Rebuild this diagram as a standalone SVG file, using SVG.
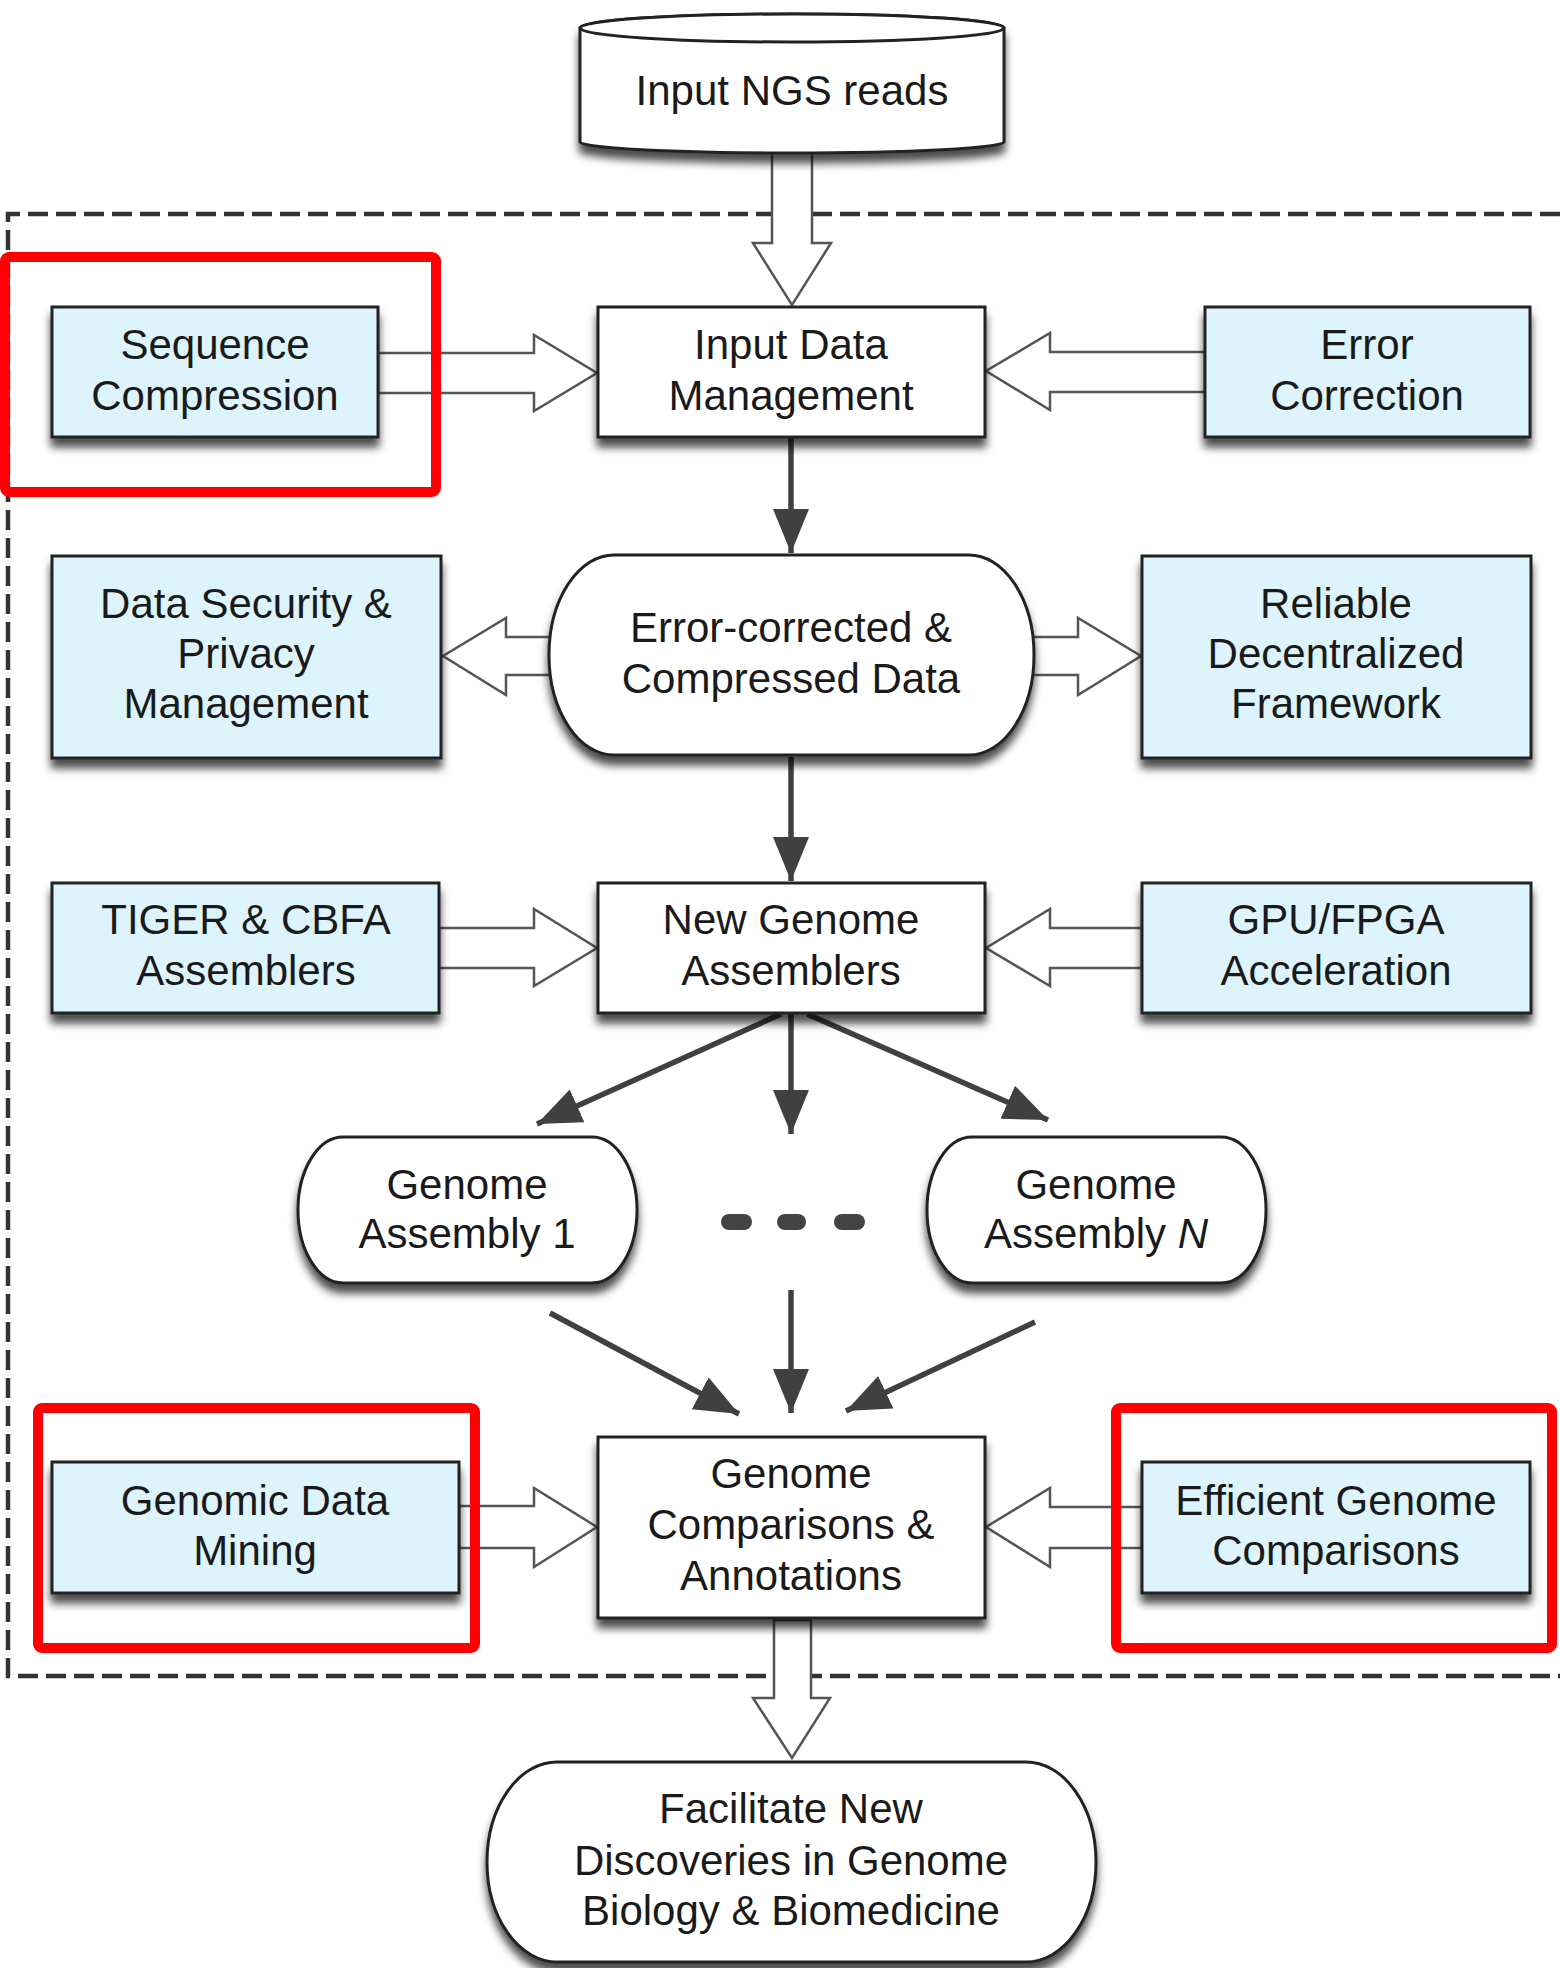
<svg xmlns="http://www.w3.org/2000/svg" width="1560" height="1968" viewBox="0 0 1560 1968">
<defs>
<filter id="sh" x="-10%" y="-10%" width="120%" height="140%">
<feDropShadow dx="0" dy="9" stdDeviation="4" flood-color="#000" flood-opacity="0.7"/>
</filter>
<marker id="ah" markerUnits="userSpaceOnUse" markerWidth="46" markerHeight="38" refX="44" refY="18" orient="auto">
<path d="M0,0 L44,18 L0,36 z" fill="#404040"/>
</marker>
<style>
.box{fill:#ffffff;stroke:#222;stroke-width:3;filter:url(#sh)}
.blue{fill:#ddf4fd;stroke:#222;stroke-width:3;filter:url(#sh)}
.t{font-family:"Liberation Sans",Arial,Helvetica,sans-serif;font-size:42px;fill:#1a1a1a;text-anchor:middle}
.blk{fill:#ffffff;stroke:#555;stroke-width:2.5;stroke-linejoin:miter}
.ln{stroke:#404040;stroke-width:5.5;fill:none;marker-end:url(#ah)}
.red{fill:none;stroke:#ff0000;stroke-width:10}
.dash{fill:none;stroke:#333;stroke-width:4.5;stroke-dasharray:20 8}
</style>
</defs>
<rect width="1560" height="1968" fill="#ffffff"/>

<path class="dash" d="M1560,214 L8,214 L8,1676 L1560,1676"/>

<g id="connectors">
<polygon class="blk" points="772,150 812,150 812,243 831,243 792,305 753,243 772,243"/>
<polygon class="blk" points="378,353 534,353 534,335 597,373 534,411 534,393 378,393"/>
<polygon class="blk" points="1205,352 1050,352 1050,333 986,371 1050,410 1050,392 1205,392"/>
<polygon class="blk" points="552,637 506,637 506,618 443,656 506,695 506,675 552,675"/>
<polygon class="blk" points="1032,637 1078,637 1078,618 1141,656 1078,695 1078,675 1032,675"/>
<polygon class="blk" points="439,928 534,928 534,909 597,948 534,986 534,968 439,968"/>
<polygon class="blk" points="1142,928 1050,928 1050,909 986,948 1050,986 1050,968 1142,968"/>
<polygon class="blk" points="459,1506 534,1506 534,1488 597,1527 534,1567 534,1548 459,1548"/>
<polygon class="blk" points="1142,1507 1050,1507 1050,1488 986,1527 1050,1567 1050,1548 1142,1548"/>
<polygon class="blk" points="774,1620 811,1620 811,1698 830,1698 792,1758 753,1698 774,1698"/>
<line class="ln" x1="791" y1="438" x2="791" y2="553"/>
<line class="ln" x1="791" y1="757" x2="791" y2="881"/>
<line class="ln" x1="781" y1="1014" x2="537" y2="1124"/>
<line class="ln" x1="791" y1="1014" x2="791" y2="1134"/>
<line class="ln" x1="807" y1="1014" x2="1048" y2="1120"/>
<line class="ln" x1="550" y1="1313" x2="739" y2="1414"/>
<line class="ln" x1="791" y1="1290" x2="791" y2="1413"/>
<line class="ln" x1="1035" y1="1322" x2="846" y2="1411"/>
</g>

<g id="input-ngs-reads">
<path class="box" d="M580,28 L580,142 A212,11 0 0 0 1004,142 L1004,28 A212,14 0 0 0 580,28 Z"/>
<ellipse cx="792" cy="28" rx="212" ry="14" fill="#fff" stroke="#222" stroke-width="3"/>
<text class="t" x="792" y="105">Input NGS reads</text>
</g>

<g id="sequence-compression">
<rect class="blue" x="52" y="307" width="326" height="130"/>
<text class="t" x="215" y="359">Sequence</text>
<text class="t" x="215" y="410">Compression</text>
</g>

<g id="input-data-management">
<rect class="box" x="598" y="307" width="387" height="130"/>
<text class="t" x="791" y="359">Input Data</text>
<text class="t" x="791" y="410">Management</text>
</g>

<g id="error-correction">
<rect class="blue" x="1205" y="307" width="325" height="130"/>
<text class="t" x="1367" y="359">Error</text>
<text class="t" x="1367" y="410">Correction</text>
</g>

<g id="data-security">
<rect class="blue" x="52" y="556" width="389" height="202"/>
<text class="t" x="246" y="618">Data Security &amp;</text>
<text class="t" x="246" y="668">Privacy</text>
<text class="t" x="246" y="718">Management</text>
</g>

<g id="error-corrected-data">
<rect class="box" x="549" y="555" width="485" height="200" rx="65" ry="100"/>
<text class="t" x="791" y="642">Error-corrected &amp;</text>
<text class="t" x="791" y="693">Compressed Data</text>
</g>

<g id="reliable-framework">
<rect class="blue" x="1142" y="556" width="389" height="202"/>
<text class="t" x="1336" y="618">Reliable</text>
<text class="t" x="1336" y="668">Decentralized</text>
<text class="t" x="1336" y="718">Framework</text>
</g>

<g id="tiger-cbfa">
<rect class="blue" x="52" y="883" width="387" height="130"/>
<text class="t" x="246" y="934">TIGER &amp; CBFA</text>
<text class="t" x="246" y="985">Assemblers</text>
</g>

<g id="new-genome-assemblers">
<rect class="box" x="598" y="883" width="387" height="130"/>
<text class="t" x="791" y="934">New Genome</text>
<text class="t" x="791" y="985">Assemblers</text>
</g>

<g id="gpu-fpga">
<rect class="blue" x="1142" y="883" width="389" height="130"/>
<text class="t" x="1336" y="934">GPU/FPGA</text>
<text class="t" x="1336" y="985">Acceleration</text>
</g>

<g id="genome-assembly-1">
<rect class="box" x="298" y="1137" width="339" height="146" rx="45" ry="73"/>
<text class="t" x="467" y="1199">Genome</text>
<text class="t" x="467" y="1248">Assembly 1</text>
</g>

<g id="ellipsis">
<rect x="721" y="1214" width="31" height="16" rx="8" fill="#444"/>
<rect x="777" y="1214" width="29" height="16" rx="8" fill="#444"/>
<rect x="834" y="1214" width="31" height="16" rx="8" fill="#444"/>
</g>

<g id="genome-assembly-n">
<rect class="box" x="927" y="1137" width="339" height="146" rx="45" ry="73"/>
<text class="t" x="1096" y="1199">Genome</text>
<text class="t" x="1096" y="1248">Assembly <tspan font-style="italic">N</tspan></text>
</g>

<g id="genomic-data-mining">
<rect class="blue" x="52" y="1462" width="407" height="131"/>
<text class="t" x="255" y="1515">Genomic Data</text>
<text class="t" x="255" y="1565">Mining</text>
</g>

<g id="genome-comparisons">
<rect class="box" x="598" y="1437" width="387" height="181"/>
<text class="t" x="791" y="1488">Genome</text>
<text class="t" x="791" y="1539">Comparisons &amp;</text>
<text class="t" x="791" y="1590">Annotations</text>
</g>

<g id="efficient-genome-comparisons">
<rect class="blue" x="1142" y="1462" width="388" height="131"/>
<text class="t" x="1336" y="1515">Efficient Genome</text>
<text class="t" x="1336" y="1565">Comparisons</text>
</g>

<g id="facilitate-discoveries">
<rect class="box" x="487" y="1762" width="609" height="200" rx="70" ry="100"/>
<text class="t" x="791" y="1823">Facilitate New</text>
<text class="t" x="791" y="1875">Discoveries in Genome</text>
<text class="t" x="791" y="1925">Biology &amp; Biomedicine</text>
</g>

<g id="highlights">
<rect class="red" x="5" y="257" width="431" height="235" rx="4"/>
<rect class="red" x="38" y="1408" width="437" height="240" rx="4"/>
<rect class="red" x="1116" y="1408" width="436" height="240" rx="4"/>
</g>
</svg>
